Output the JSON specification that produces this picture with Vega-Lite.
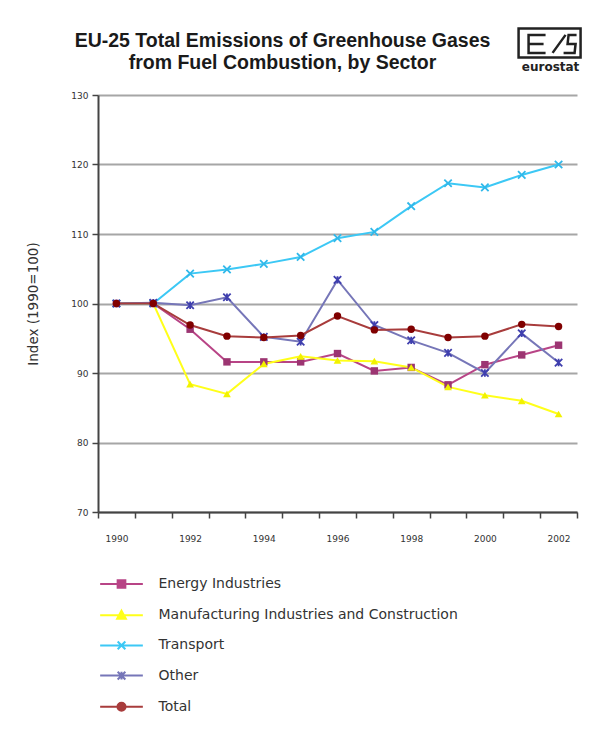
{
  "$schema": "https://vega.github.io/schema/vega-lite/v6.json",
  "width": 479,
  "height": 417,
  "autosize": {"type": "none"},
  "padding": {"left": 98, "top": 95, "right": 15, "bottom": 233},
  "background": "white",
  "title": {
    "text": ["EU-25 Total Emissions of Greenhouse Gases", "from Fuel Combustion, by Sector"],
    "font": "Liberation Sans",
    "fontSize": 19.5,
    "fontWeight": "bold",
    "color": "#1a1a1a",
    "anchor": "middle",
    "frame": "group",
    "dx": -55,
    "lineHeight": 22,
    "offset": -50
  },
  "config": {
    "view": {"stroke": null},
    "axis": {"labelFont": "DejaVu Sans", "titleFont": "DejaVu Sans"}
  },
  "datasets": {
    "emissions": [
      {"year": 1990, "series": "Energy Industries", "value": 100},
      {"year": 1991, "series": "Energy Industries", "value": 100},
      {"year": 1992, "series": "Energy Industries", "value": 96.3},
      {"year": 1993, "series": "Energy Industries", "value": 91.6},
      {"year": 1994, "series": "Energy Industries", "value": 91.6},
      {"year": 1995, "series": "Energy Industries", "value": 91.6},
      {"year": 1996, "series": "Energy Industries", "value": 92.8},
      {"year": 1997, "series": "Energy Industries", "value": 90.3},
      {"year": 1998, "series": "Energy Industries", "value": 90.8},
      {"year": 1999, "series": "Energy Industries", "value": 88.3},
      {"year": 2000, "series": "Energy Industries", "value": 91.2},
      {"year": 2001, "series": "Energy Industries", "value": 92.6},
      {"year": 2002, "series": "Energy Industries", "value": 94.0},
      {"year": 1990, "series": "Manufacturing Industries and Construction", "value": 100},
      {"year": 1991, "series": "Manufacturing Industries and Construction", "value": 100},
      {"year": 1992, "series": "Manufacturing Industries and Construction", "value": 88.4},
      {"year": 1993, "series": "Manufacturing Industries and Construction", "value": 87.0},
      {"year": 1994, "series": "Manufacturing Industries and Construction", "value": 91.3},
      {"year": 1995, "series": "Manufacturing Industries and Construction", "value": 92.4},
      {"year": 1996, "series": "Manufacturing Industries and Construction", "value": 91.8},
      {"year": 1997, "series": "Manufacturing Industries and Construction", "value": 91.7},
      {"year": 1998, "series": "Manufacturing Industries and Construction", "value": 90.8},
      {"year": 1999, "series": "Manufacturing Industries and Construction", "value": 88.0},
      {"year": 2000, "series": "Manufacturing Industries and Construction", "value": 86.8},
      {"year": 2001, "series": "Manufacturing Industries and Construction", "value": 86.0},
      {"year": 2002, "series": "Manufacturing Industries and Construction", "value": 84.1},
      {"year": 1990, "series": "Transport", "value": 100},
      {"year": 1991, "series": "Transport", "value": 100},
      {"year": 1992, "series": "Transport", "value": 104.3},
      {"year": 1993, "series": "Transport", "value": 104.9},
      {"year": 1994, "series": "Transport", "value": 105.7},
      {"year": 1995, "series": "Transport", "value": 106.7},
      {"year": 1996, "series": "Transport", "value": 109.4},
      {"year": 1997, "series": "Transport", "value": 110.3},
      {"year": 1998, "series": "Transport", "value": 114.0},
      {"year": 1999, "series": "Transport", "value": 117.3},
      {"year": 2000, "series": "Transport", "value": 116.7},
      {"year": 2001, "series": "Transport", "value": 118.5},
      {"year": 2002, "series": "Transport", "value": 120.0},
      {"year": 1990, "series": "Other", "value": 100},
      {"year": 1991, "series": "Other", "value": 100.1},
      {"year": 1992, "series": "Other", "value": 99.75},
      {"year": 1993, "series": "Other", "value": 100.9},
      {"year": 1994, "series": "Other", "value": 95.2},
      {"year": 1995, "series": "Other", "value": 94.5},
      {"year": 1996, "series": "Other", "value": 103.4},
      {"year": 1997, "series": "Other", "value": 96.9},
      {"year": 1998, "series": "Other", "value": 94.7},
      {"year": 1999, "series": "Other", "value": 92.9},
      {"year": 2000, "series": "Other", "value": 90.0},
      {"year": 2001, "series": "Other", "value": 95.7},
      {"year": 2002, "series": "Other", "value": 91.5},
      {"year": 1990, "series": "Total", "value": 100},
      {"year": 1991, "series": "Total", "value": 100},
      {"year": 1992, "series": "Total", "value": 96.9},
      {"year": 1993, "series": "Total", "value": 95.3},
      {"year": 1994, "series": "Total", "value": 95.1},
      {"year": 1995, "series": "Total", "value": 95.4},
      {"year": 1996, "series": "Total", "value": 98.2},
      {"year": 1997, "series": "Total", "value": 96.2},
      {"year": 1998, "series": "Total", "value": 96.3},
      {"year": 1999, "series": "Total", "value": 95.1},
      {"year": 2000, "series": "Total", "value": 95.3},
      {"year": 2001, "series": "Total", "value": 97.0},
      {"year": 2002, "series": "Total", "value": 96.7}
    ]
  },
  "layer": [
    {
      "data": {"name": "emissions"},
      "mark": {"type": "line", "strokeWidth": 2},
      "encoding": {
        "x": {
          "field": "year",
          "type": "ordinal",
          "scale": {"paddingInner": 0, "paddingOuter": 0},
          "axis": {
            "title": null,
            "labelAngle": 0,
            "labelFontSize": 9,
            "labelColor": "#333",
            "labelPadding": 16,
            "labelExpr": "datum.value % 2 === 0 ? datum.label : ''",
            "tickBand": "extent",
            "tickSize": 6,
            "tickColor": "#444",
            "tickWidth": 1.5,
            "domainColor": "#444",
            "domainWidth": 2,
            "grid": false
          }
        },
        "y": {
          "field": "value",
          "type": "quantitative",
          "scale": {"domain": [70, 130], "nice": false, "zero": false},
          "axis": {
            "title": "Index (1990=100)",
            "titleFontSize": 13.5,
            "titleFontWeight": "normal",
            "titleColor": "#333",
            "titlePadding": 30,
            "values": [70, 80, 90, 100, 110, 120, 130],
            "labelFontSize": 9,
            "labelColor": "#333",
            "labelPadding": 4,
            "tickSize": 6,
            "tickColor": "#444",
            "tickWidth": 1.5,
            "domainColor": "#444",
            "domainWidth": 2,
            "grid": true,
            "gridColor": "#a6a6a6",
            "gridWidth": 2
          }
        },
        "color": {
          "field": "series",
          "type": "nominal",
          "scale": {
            "domain": ["Energy Industries", "Manufacturing Industries and Construction", "Transport", "Other", "Total"],
            "range": ["#b84486", "#ffff1a", "#3cc8f5", "#7676b8", "#a83c3c"]
          },
          "legend": {
            "orient": "none",
            "legendX": 16.5,
            "legendY": 482,
            "title": null,
            "symbolSize": 49,
            "symbolStrokeWidth": 2,
            "labelFont": "DejaVu Sans",
            "labelFontSize": 14,
            "labelColor": "#333",
            "labelLimit": 0,
            "labelOffset": 30,
            "rowPadding": 14.2,
            "encode": {
              "symbols": {
                "update": {
                  "shape": {"signal": "datum.value === 'Energy Industries' ? 'M-6.1,0H6.1M-1.1,-1.1H1.1V1.1H-1.1Z' : datum.value === 'Transport' ? 'M-6.1,0H6.1M-1.1,-1.1L1.1,1.1M-1.1,1.1L1.1,-1.1' : datum.value === 'Other' ? 'M-6.1,0H6.1M-1.1,-1.1L1.1,1.1M-1.1,1.1L1.1,-1.1M0,-1.1V1.1' : datum.value === 'Total' ? 'M-6.1,0H6.1M1.15,0A1.15,1.15,0,1,1,-1.15,0A1.15,1.15,0,1,1,1.15,0Z' : 'M-6.1,0H6.1M0,-1.3L1.25,1H-1.25Z'"},
                  "fill": {"signal": "scale('color', datum.value)"},
                  "stroke": {"signal": "scale('color', datum.value)"},
                  "strokeWidth": {"value": 2},
                  "opacity": {"value": 1}
                }
              }
            }
          }
        }
      }
    },
    {
      "data": {"name": "emissions"},
      "transform": [{"filter": "datum.series === 'Energy Industries'"}],
      "mark": {"type": "point", "shape": "square", "filled": true, "size": 55, "color": "#9c3572", "opacity": 1},
      "encoding": {
        "x": {"field": "year", "type": "ordinal"},
        "y": {"field": "value", "type": "quantitative"}
      }
    },
    {
      "data": {"name": "emissions"},
      "transform": [{"filter": "datum.series === 'Manufacturing Industries and Construction'"}],
      "mark": {"type": "point", "shape": "triangle-up", "filled": true, "size": 60, "color": "#f2f200", "opacity": 1},
      "encoding": {
        "x": {"field": "year", "type": "ordinal"},
        "y": {"field": "value", "type": "quantitative"}
      }
    },
    {
      "data": {"name": "emissions"},
      "transform": [{"filter": "datum.series === 'Transport'"}],
      "mark": {"type": "point", "shape": "M-1,-1L1,1M-1,1L1,-1", "filled": false, "size": 55, "strokeWidth": 1.8, "color": "#30b8ea", "opacity": 1},
      "encoding": {
        "x": {"field": "year", "type": "ordinal"},
        "y": {"field": "value", "type": "quantitative"}
      }
    },
    {
      "data": {"name": "emissions"},
      "transform": [{"filter": "datum.series === 'Other'"}],
      "mark": {"type": "point", "shape": "M-1,-1L1,1M-1,1L1,-1M0,-1V1", "filled": false, "size": 55, "strokeWidth": 1.8, "color": "#3f3fae", "opacity": 1},
      "encoding": {
        "x": {"field": "year", "type": "ordinal"},
        "y": {"field": "value", "type": "quantitative"}
      }
    },
    {
      "data": {"name": "emissions"},
      "transform": [{"filter": "datum.series === 'Total'"}],
      "mark": {"type": "point", "shape": "circle", "filled": true, "size": 55, "color": "#800000", "opacity": 1},
      "encoding": {
        "x": {"field": "year", "type": "ordinal"},
        "y": {"field": "value", "type": "quantitative"}
      }
    },
    {
      "data": {"values": [{"logo": "eurostat"}]},
      "mark": {
        "type": "point",
        "shape": "M-31,-14.5H31V14.5H-31ZM-4,-8H-21V10H-4M-21,1H-6M3,10L16,-8M27,-8H19L18,1H26L25,10H14",
        "size": 4,
        "filled": false,
        "stroke": "#222",
        "strokeWidth": 2.5,
        "opacity": 1,
        "xOffset": -9
      },
      "encoding": {
        "x": {"datum": 2002, "type": "ordinal"},
        "y": {"datum": 137.5, "type": "quantitative"}
      }
    },
    {
      "data": {"values": [{"logo": "eurostat"}]},
      "mark": {
        "type": "text",
        "font": "DejaVu Sans",
        "fontWeight": "bold",
        "fontSize": 12,
        "color": "#222",
        "baseline": "middle",
        "align": "center",
        "dx": -8
      },
      "encoding": {
        "x": {"datum": 2002, "type": "ordinal"},
        "y": {"datum": 134.1, "type": "quantitative"},
        "text": {"field": "logo"}
      }
    }
  ]
}
